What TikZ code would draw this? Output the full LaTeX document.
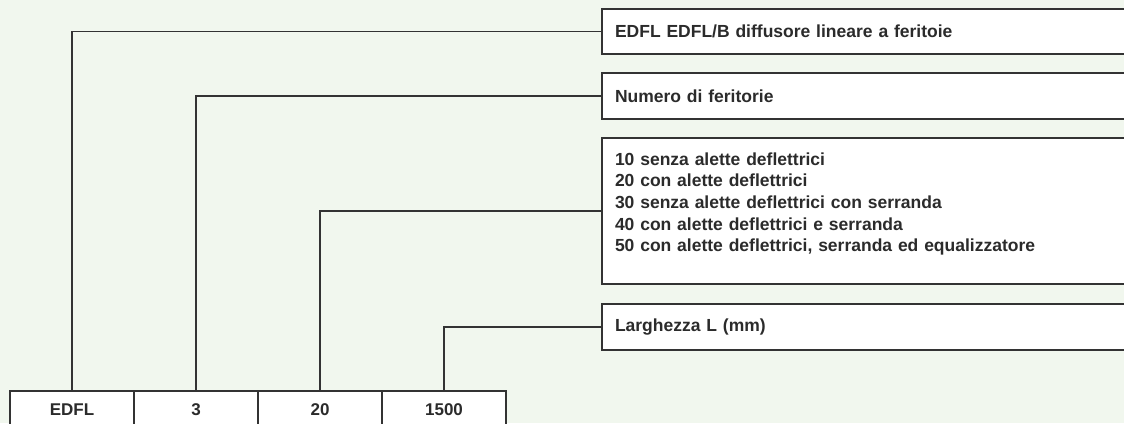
\documentclass[tikz,border=0pt]{standalone}
\usepackage{fontspec}
\setmainfont{Liberation Sans}
\usetikzlibrary{positioning, calc}
\definecolor{bgcol}{HTML}{F1F7EE}
\definecolor{txtcol}{HTML}{2B2B2B}
\definecolor{linecol}{HTML}{333333}

\tikzset{
  cell/.style={draw=linecol, line width=1.6pt, fill=white, outer sep=0pt, inner sep=0pt,
    minimum width=124pt, minimum height=38pt, text=txtcol,
    font=\bfseries\fontsize{17}{20}\selectfont},
  descbox/.style={draw=linecol, line width=1.6pt, fill=white, outer sep=0pt, anchor=west,
    inner xsep=13pt, inner ysep=0pt, text width=514pt, align=left, text=txtcol,
    font=\bfseries\fontsize{17.5}{21.7}\selectfont},
  conn/.style={draw=linecol, line width=1.3pt}
}

\begin{document}
\begin{tikzpicture}[x=1pt, y=-1pt]
  \useasboundingbox[fill=bgcol] (0,0) rectangle (1124,423);

  % code cells
  \node[cell] (code) at (72,410) {EDFL};
  \node[cell, right=0pt of code] (slots) {3};
  \node[cell, right=0pt of slots] (type) {20};
  \node[cell, right=0pt of type] (width) {1500};

  % descriptions
  \node[descbox, minimum height=45pt] (dcode) at (602,31.5) {EDFL EDFL/B diffusore lineare a feritoie};
  \node[descbox, minimum height=46pt] (dslots) at (602,96) {Numero di feritorie};
  \node[descbox, minimum height=146pt] (dtype) at (602,211) {10 senza alette deflettrici\\
    20 con alette deflettrici\\
    30 senza alette deflettrici con serranda\\
    40 con alette deflettrici e serranda\\
    50 con alette deflettrici, serranda ed equalizzatore\par\vspace{14pt}};
  \node[descbox, minimum height=46pt] (dwidth) at (602,327) {Larghezza L (mm)};

  % leaders
  \draw[conn] (code.north) |- (dcode.west);
  \draw[conn] (slots.north) |- (dslots.west);
  \draw[conn] (type.north) |- (dtype.west);
  \draw[conn] (width.north) |- (dwidth.west);
\end{tikzpicture}
\end{document}
